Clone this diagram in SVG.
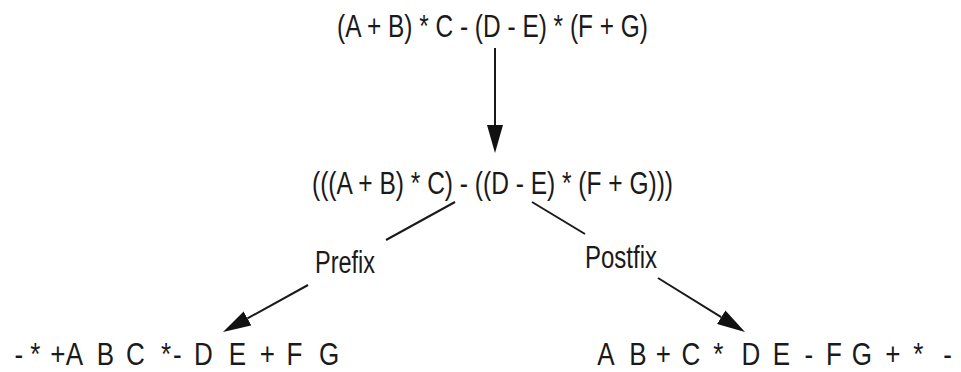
<svg xmlns="http://www.w3.org/2000/svg" width="961" height="372" viewBox="0 0 961 372">
<style>
text{font-family:"Liberation Sans",Arial,sans-serif;fill:#1a1a1a}
.t{font-size:31px}
.b{font-size:31px;text-anchor:middle}
.c{stroke:#1a1a1a;stroke-width:2;fill:none}
</style>
<defs>
<marker id="ah" markerUnits="userSpaceOnUse" viewBox="0 0 28 16" refX="0" refY="8" markerWidth="28" markerHeight="16" orient="auto">
<path d="M0,0 L28,8 L0,16 Z" fill="#111"/>
</marker>
</defs>
<rect width="961" height="372" fill="#fff"/>
<g id="infix">
<text class="t" x="337" y="37" textLength="311" lengthAdjust="spacingAndGlyphs">(A + B) * C - (D - E) * (F + G)</text>
</g>
<g id="parenthesized">
<text class="t" x="312" y="194" textLength="361" lengthAdjust="spacingAndGlyphs">(((A + B) * C) - ((D - E) * (F + G)))</text>
</g>
<g id="prefix-label">
<text class="t" x="315" y="273" textLength="60" lengthAdjust="spacingAndGlyphs">Prefix</text>
</g>
<g id="postfix-label">
<text class="t" x="585" y="268" textLength="72" lengthAdjust="spacingAndGlyphs">Postfix</text>
</g>
<g id="prefix-result" transform="scale(0.84 1)">
<text class="b" y="365"><tspan x="26.8">-</tspan> <tspan x="46.4">*</tspan> <tspan x="69">+</tspan><tspan x="92.9">A</tspan> <tspan x="129.8">B</tspan> <tspan x="165.5">C</tspan> <tspan x="197.6">*</tspan><tspan x="215.5">-</tspan> <tspan x="246.4">D</tspan> <tspan x="286.9">E</tspan> <tspan x="322.6">+</tspan> <tspan x="354.8">F</tspan> <tspan x="391.7">G</tspan></text>
</g>
<g id="postfix-result" transform="scale(0.84 1)">
<text class="b" y="365"><tspan x="725.6">A</tspan> <tspan x="763.7">B</tspan> <tspan x="794">+</tspan> <tspan x="826.8">C</tspan> <tspan x="859.5">*</tspan> <tspan x="898.2">D</tspan> <tspan x="934.5">E</tspan> <tspan x="967.3">-</tspan> <tspan x="997">F</tspan> <tspan x="1030.4">G</tspan> <tspan x="1067.3">+</tspan> <tspan x="1097.6">*</tspan> <tspan x="1128">-</tspan></text>
</g>
<g id="connectors">
<line class="c" x1="495" y1="48" x2="495" y2="125" marker-end="url(#ah)"/>
<line class="c" x1="455" y1="202" x2="386" y2="240"/>
<line class="c" x1="308" y1="285" x2="247.5" y2="318.4" marker-end="url(#ah)"/>
<line class="c" x1="532" y1="202" x2="585" y2="234"/>
<line class="c" x1="658" y1="278" x2="721.2" y2="317.2" marker-end="url(#ah)"/>
</g>
</svg>
